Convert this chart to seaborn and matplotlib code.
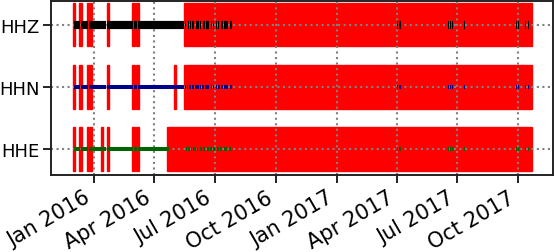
import numpy as np
import pandas as pd
import matplotlib
matplotlib.use("Agg")
import matplotlib.pyplot as plt
import matplotlib.dates as mdates
import seaborn as sns

# ---------------- data (day offsets from 2016-01-01) ----------------
BASE_DATE = "2016-01-01"
channels = ["HHE", "HHN", "HHZ"]
channel_colors = ["darkgreen", "darkblue", "black"]

gaps_early = [(-31.0, -28.5), (-22.3, -17.8), (-10.2, -6.8), (-6.0, -2.7),
              (19.9, 22.9), (57.5, 62.0), (63.6, 68.0)]
hhe_gaps = gaps_early + [(10.8, 13.9), (110.2, 660.0)]
hhn_gaps = gaps_early + [(120.8, 123.8), (135.6, 660.0)]
hhz_gaps = gaps_early + [(135.8, 660.0)]

hhz_main = [(-29.8, -20.2), (-19.2, -8.8), (-7.8, 19.0), (20.0, 59.0),
            (60.0, 65.0), (66.0, 135.8)]
hhn_main = [(-29.8, -20.2), (-19.2, -8.8), (-7.8, 19.0), (20.0, 59.0),
            (60.0, 65.0), (66.0, 135.6)]
hhe_main = [(-29.8, -20.2), (-19.2, -8.8), (-7.8, 11.8), (12.8, 19.0),
            (20.0, 59.0), (60.0, 65.0), (66.0, 113.3)]

hhz_dense = [(136.9, 138.4), (139.9, 140.8), (142.3, 143.4), (144.9, 146.4),
             (148.3, 150.5), (153.5, 158.4), (160.4, 161.9), (164.0, 167.0),
             (169.0, 174.0), (176.5, 178.0), (180.0, 181.5), (183.6, 185.0),
             (187.5, 189.0), (191.6, 194.0), (196.0, 201.7), (205.0, 207.7)]
hhn_dense = [(136.9, 138.6), (139.9, 141.4), (142.9, 144.4), (145.3, 146.8),
             (148.3, 150.5), (152.9, 158.9), (160.4, 161.9), (163.0, 166.4),
             (167.9, 173.5), (176.5, 178.5), (179.9, 181.5), (183.4, 185.5),
             (187.5, 189.9), (191.6, 194.5), (196.0, 201.7), (205.0, 207.7)]
hhe_dense = [(138.9, 140.8), (142.3, 144.4), (145.9, 147.9), (149.8, 153.5),
             (155.4, 157.4), (159.9, 162.5), (164.9, 167.9), (170.5, 173.0),
             (175.0, 178.0), (180.0, 183.0), (185.1, 188.1), (190.1, 193.1),
             (196.1, 200.2), (204.0, 207.0)]

late_segments = [(457.0, 458.6), (460.0, 462.0), (533.9, 535.4), (536.9, 538.0),
                 (539.5, 541.0), (557.5, 559.0), (636.3, 637.8), (638.9, 640.4),
                 (649.4, 650.9), (653.5, 655.0)]

line_widths = [2.9, 2.9, 5.9]
x_range_days = (-64.5, 691.6)

# ---------------- build tables ----------------
base = mdates.date2num(pd.Timestamp(BASE_DATE))
gaps_by_channel = [hhe_gaps, hhn_gaps, hhz_gaps]
segs_by_channel = [hhe_main + hhe_dense + late_segments,
                   hhn_main + hhn_dense + late_segments,
                   hhz_main + hhz_dense + late_segments]

rows = []
for ci, segs in enumerate(segs_by_channel):
    for si, (s, e) in enumerate(segs):
        rows.append((channels[ci], ci, si, base + s, ci))
        rows.append((channels[ci], ci, si, base + e, ci))
seg_df = pd.DataFrame(rows, columns=["channel", "cidx", "seg", "x", "y"])

gap_rows = []
for ci, gaps in enumerate(gaps_by_channel):
    for (s, e) in gaps:
        gap_rows.append((ci, base + s, e - s))
gap_df = pd.DataFrame(gap_rows, columns=["y", "left", "width"])

# ---------------- plot ----------------
sns.set_theme(style="ticks")
plt.rcParams["font.family"] = ["DejaVu Sans"]

fig, ax = plt.subplots(figsize=(5.55, 2.53), dpi=100)
fig.subplots_adjust(left=0.092, right=0.9964, top=0.994, bottom=0.304)

ax.barh(y=gap_df["y"], width=gap_df["width"], left=gap_df["left"],
        height=0.7, color="red", edgecolor="red", linewidth=1.0, zorder=1)

for ci, ch in enumerate(channels):
    sub = seg_df[seg_df["cidx"] == ci]
    sns.lineplot(data=sub, x="x", y="y", units="seg", estimator=None,
                 color=channel_colors[ci], linewidth=line_widths[ci],
                 solid_capstyle="butt", ax=ax, legend=False, zorder=2)

ax.set_axisbelow("line")
ax.grid(True, linestyle=":", color="gray", linewidth=1.5)

ax.set_yticks(range(len(channels)))
ax.set_yticklabels(channels, fontsize=13)
ax.set_ylim(-0.42, 2.39)
ax.set_xlim(base + x_range_days[0], base + x_range_days[1])
ax.xaxis.set_major_locator(mdates.MonthLocator(bymonth=[1, 4, 7, 10]))
ax.xaxis.set_major_formatter(mdates.DateFormatter("%b %Y"))
ax.set_xlabel("")
ax.set_ylabel("")
for lab in ax.get_xticklabels():
    lab.set_rotation(30)
    lab.set_ha("right")
    lab.set_fontsize(15)

for sp in ax.spines.values():
    sp.set_visible(True)
    sp.set_color("#222222")
    sp.set_linewidth(1.4)
ax.tick_params(axis="both", length=5.5, width=1.4, color="#222222",
               labelcolor="black", pad=3)

fig.savefig("out.png", dpi=100)
